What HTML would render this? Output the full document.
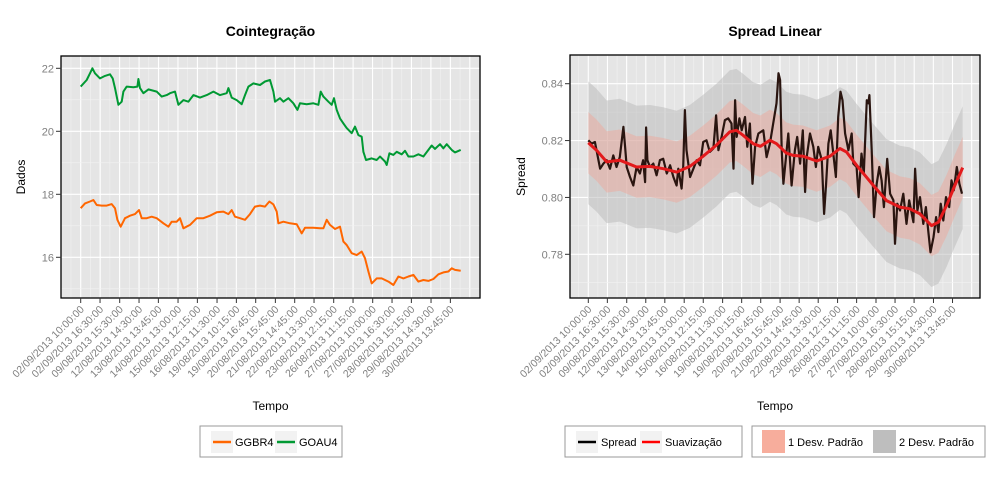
<!DOCTYPE html>
<html><head><meta charset="utf-8"><style>
html,body{margin:0;padding:0;background:#fff;}
svg{display:block;font-family:"Liberation Sans",sans-serif;}
</style></head><body>
<svg id="chart" width="1000" height="480" viewBox="0 0 1000 480" xmlns="http://www.w3.org/2000/svg"></svg>
<script>
// ---------- data ----------
const tickLabels = ["02/09/2013 10:00:00","02/09/2013 16:30:00","09/08/2013 15:30:00","12/08/2013 14:30:00","13/08/2013 13:45:00","14/08/2013 13:00:00","15/08/2013 12:15:00","16/08/2013 11:30:00","19/08/2013 10:15:00","19/08/2013 16:45:00","20/08/2013 15:45:00","21/08/2013 14:45:00","22/08/2013 13:30:00","23/08/2013 12:15:00","26/08/2013 11:15:00","27/08/2013 10:00:00","27/08/2013 16:30:00","28/08/2013 15:15:00","29/08/2013 14:30:00","30/08/2013 13:45:00"];
const tickIndex = [0,58,117,175,233,292,350,409,467,525,584,642,700,759,817,876,934,992,1051,1109];
const leftYTicks = [16,18,20,22];
const rightYTicks = [0.78,0.80,0.82,0.84];
const goau4 = [[0,21.42],[18,21.63],[28,21.84],[35,22.0],[43,21.84],[58,21.68],[73,21.76],[88,21.81],[96,21.68],[103,21.37],[113,20.84],[123,20.94],[128,21.26],[138,21.42],[158,21.40],[170,21.42],[173,21.66],[178,21.37],[188,21.21],[203,21.33],[228,21.26],[243,21.10],[258,21.15],[268,21.21],[283,21.26],[293,20.84],[308,20.99],[323,20.94],[338,21.15],[358,21.07],[378,21.15],[398,21.26],[418,21.15],[438,21.21],[443,21.37],[453,21.07],[468,20.99],[483,20.86],[493,21.15],[503,21.42],[518,21.52],[538,21.47],[553,21.58],[568,21.63],[578,21.26],[583,20.94],[598,21.05],[608,20.94],[623,21.05],[638,20.89],[650,20.68],[658,20.89],[678,20.86],[698,20.89],[713,20.84],[720,21.26],[728,21.10],[743,20.94],[753,20.84],[760,21.05],[768,20.68],[778,20.41],[788,20.25],[798,20.10],[813,19.94],[823,20.15],[833,19.88],[843,19.83],[848,19.35],[856,19.09],[873,19.14],[888,19.09],[898,19.20],[913,19.04],[918,18.93],[926,19.30],[938,19.25],[948,19.35],[963,19.27],[973,19.38],[983,19.20],[998,19.20],[1013,19.27],[1028,19.20],[1043,19.41],[1053,19.55],[1063,19.44],[1078,19.59],[1088,19.46],[1098,19.59],[1113,19.41],[1123,19.33],[1140,19.41]];
const ggbr4 = [[0,17.56],[13,17.71],[28,17.77],[38,17.82],[48,17.66],[63,17.64],[78,17.64],[93,17.69],[103,17.56],[110,17.19],[120,16.97],[133,17.24],[148,17.32],[163,17.37],[175,17.50],[183,17.24],[198,17.24],[213,17.29],[228,17.24],[248,17.08],[263,16.97],[273,17.13],[288,17.13],[298,17.24],[308,16.92],[328,17.03],[348,17.24],[368,17.24],[388,17.32],[408,17.43],[428,17.45],[443,17.37],[453,17.50],[463,17.29],[478,17.24],[493,17.19],[508,17.37],[523,17.61],[538,17.64],[553,17.61],[566,17.77],[578,17.68],[588,17.45],[593,17.08],[608,17.13],[628,17.08],[648,17.05],[663,16.76],[673,16.94],[698,16.94],[718,16.92],[728,16.92],[738,17.19],[748,17.03],[763,16.90],[778,16.97],[788,16.50],[798,16.39],[813,16.13],[828,16.07],[843,16.18],[853,15.97],[863,15.55],[873,15.17],[888,15.33],[903,15.33],[923,15.23],[938,15.12],[953,15.39],[968,15.33],[983,15.39],[998,15.44],[1013,15.23],[1028,15.28],[1043,15.25],[1058,15.31],[1073,15.46],[1088,15.52],[1103,15.55],[1113,15.65],[1123,15.60],[1140,15.57]];
const spread = [[0,0.8201],[10,0.8189],[20,0.8195],[27,0.8154],[36,0.8101],[46,0.8119],[56,0.8131],[66,0.8101],[76,0.8148],[86,0.8107],[96,0.8142],[107,0.8248],[112,0.8178],[117,0.8107],[127,0.8072],[137,0.8042],[147,0.8107],[157,0.8084],[167,0.8131],[173,0.8054],[176,0.8246],[180,0.8131],[188,0.8107],[198,0.8119],[208,0.8078],[218,0.8131],[228,0.8136],[239,0.8084],[249,0.8113],[259,0.8072],[269,0.8042],[274,0.8101],[284,0.8031],[289,0.8107],[294,0.8307],[299,0.8166],[310,0.8072],[320,0.8101],[330,0.8131],[340,0.8113],[350,0.8195],[360,0.8201],[370,0.8160],[381,0.8172],[389,0.8289],[396,0.8166],[406,0.8213],[416,0.8272],[426,0.8278],[436,0.8260],[442,0.8101],[447,0.8342],[452,0.8213],[460,0.8278],[467,0.8236],[477,0.8283],[484,0.8178],[492,0.8260],[500,0.8048],[508,0.8178],[518,0.8225],[533,0.8236],[543,0.8142],[553,0.8189],[563,0.8260],[573,0.8331],[579,0.8437],[584,0.8413],[589,0.8166],[594,0.8048],[602,0.8142],[609,0.8225],[619,0.8042],[629,0.8166],[636,0.8213],[645,0.8119],[653,0.8236],[660,0.8019],[665,0.8142],[675,0.8225],[685,0.8178],[693,0.8107],[700,0.8178],[711,0.8131],[718,0.7942],[724,0.8048],[731,0.8189],[738,0.8236],[746,0.8154],[754,0.8072],[761,0.8283],[768,0.8372],[774,0.8342],[782,0.8225],[792,0.8166],[802,0.8225],[807,0.8119],[817,0.8107],[823,0.8001],[832,0.8154],[839,0.8084],[848,0.8342],[853,0.8331],[856,0.8360],[863,0.8166],[870,0.7931],[878,0.8048],[886,0.8107],[893,0.8060],[900,0.7966],[910,0.8136],[919,0.8013],[929,0.7990],[934,0.7837],[941,0.7978],[949,0.7954],[959,0.8013],[969,0.7907],[977,0.7990],[990,0.7913],[995,0.8101],[1002,0.7954],[1010,0.8001],[1020,0.7907],[1028,0.7966],[1035,0.7884],[1042,0.7807],[1051,0.7860],[1059,0.7931],[1066,0.7878],[1073,0.7978],[1081,0.7919],[1089,0.8001],[1099,0.7966],[1106,0.8060],[1113,0.8025],[1122,0.8107],[1130,0.8048],[1138,0.8013]];
const smooth = [[0,0.8192],[25,0.8166],[56,0.8125],[96,0.8131],[147,0.8107],[188,0.8109],[228,0.8101],[269,0.8089],[309,0.8109],[350,0.8145],[390,0.8184],[431,0.8231],[451,0.8236],[471,0.8219],[502,0.8189],[524,0.8180],[553,0.8201],[573,0.8189],[603,0.8156],[624,0.8148],[654,0.8145],[695,0.8128],[736,0.8145],[766,0.8172],[786,0.8160],[817,0.8113],[868,0.8042],[908,0.7989],[949,0.7966],[979,0.7960],[1010,0.7942],[1045,0.7901],[1066,0.7913],[1091,0.7972],[1116,0.8042],[1140,0.8105]];
const spreadSd = [0.0108];

// ---------- helpers ----------
const NS="http://www.w3.org/2000/svg";
const svg=document.getElementById('chart');
function mk(tag,attrs,parent){const e=document.createElementNS(NS,tag);for(const k in attrs)e.setAttribute(k,attrs[k]);(parent||svg).appendChild(e);return e;}

function panel(cfg){
  const g=mk('g',{});
  
  
  const {x0,x1,y0,y1}=cfg;
  const xs=i=>cfg.px0+(i-0)*(cfg.px1-cfg.px0)/1140;
  const ys=v=>cfg.vy0+(v-cfg.v0)*(cfg.vy1-cfg.vy0)/(cfg.v1-cfg.v0);
  const bg=mk('rect',{x:x0,y:y0,width:x1-x0,height:y1-y0,fill:'#e5e5e5'},g);
  
  
  for(let k=-0.5;k<=tickIndex.length;k+=0.5){
    const xx=xs(k*(tickIndex[tickIndex.length-1]/(tickIndex.length-1)));
    if(xx<=x0||xx>=x1)continue;
    mk('line',{x1:xx,x2:xx,y1:y0,y2:y1,stroke:Number.isInteger(k)?'#ffffff':'#f2f2f2','stroke-width':Number.isInteger(k)?1.1:0.6},g);
  }
  const ystep=cfg.yticks[1]-cfg.yticks[0];
  for(let v=cfg.yticks[0]-ystep;v<=cfg.yticks[cfg.yticks.length-1]+ystep*1.01;v+=ystep/2){
    const yy=ys(v);if(yy<=y0||yy>=y1)continue;
    const major=cfg.yticks.some(t=>Math.abs(t-v)<1e-9);
    mk('line',{x1:x0,x2:x1,y1:yy,y2:yy,stroke:major?'#ffffff':'#f2f2f2','stroke-width':major?1.1:0.6},g);
  }
  cfg.draw(g,xs,ys);
  const border=mk('rect',{x:x0,y:y0,width:x1-x0,height:y1-y0,fill:'none',stroke:'#000','stroke-width':1.3},g);
  
  
  cfg.yticks.forEach(v=>{
    const yy=ys(v);
    mk('line',{x1:x0-5,x2:x0,y1:yy,y2:yy,stroke:'#333','stroke-width':1},g);
    const t=mk('text',{x:x0-7,y:yy+4,'text-anchor':'end','font-size':11,fill:'#7f7f7f'},g);
    t.textContent=cfg.yfmt(v);
    
    
  });
  tickIndex.forEach((ti,k)=>{
    const xx=xs(ti);
    mk('line',{x1:xx,x2:xx,y1:y1,y2:y1+5,stroke:'#333','stroke-width':1},g);
    const t=mk('text',{transform:`translate(${xx+4},${y1+12}) rotate(-45)`,'text-anchor':'end','font-size':10.5,fill:'#7f7f7f'},g);
    t.textContent=tickLabels[k];
    
    
  });
  const tt=mk('text',{x:(x0+x1)/2,y:36,'text-anchor':'middle','font-size':14,'font-weight':'bold',fill:'#000'},g);
  tt.textContent=cfg.title;
  
  
  const xt=mk('text',{x:(x0+x1)/2,y:410,'text-anchor':'middle','font-size':12,fill:'#000'},g);
  xt.textContent='Tempo';
  
  
  const yt=mk('text',{transform:`translate(${cfg.ytx},${(y0+y1)/2}) rotate(-90)`,'text-anchor':'middle','font-size':12,fill:'#000'},g);
  yt.textContent=cfg.ytitle;
  
  
}
function pathOf(arr,xs,ys){return arr.map((p,i)=>(i?'L':'M')+xs(p[0]).toFixed(1)+','+ys(p[1]).toFixed(1)).join('');}
function bandOf(arr,k,xs,ys){
  const up=arr.map(p=>[p[0],p[1]+k*spreadSd[0]]);
  const dn=arr.map(p=>[p[0],p[1]-k*spreadSd[0]]).reverse();
  return pathOf(up,xs,ys)+pathOf(dn,xs,ys).replace('M','L')+'Z';
}

panel({name:'cointegration-panel',x0:61,x1:480,y0:56,y1:298,px0:80.7,px1:460.7,
  v0:22,v1:16,vy0:68.3,vy1:257.3,yticks:leftYTicks,yfmt:v=>String(v),
  title:'Cointegração',ytitle:'Dados',ytx:25,
  draw:(g,xs,ys)=>{
    const a=mk('path',{d:pathOf(goau4,xs,ys),fill:'none',stroke:'#009933','stroke-width':2,'stroke-linejoin':'round'},g);
    
    
    const b=mk('path',{d:pathOf(ggbr4,xs,ys),fill:'none',stroke:'#ff6600','stroke-width':2,'stroke-linejoin':'round'},g);
    
    
  }});

panel({name:'spread-panel',x0:570,x1:980,y0:55,y1:298,px0:588.3,px1:962.7,
  v0:0.84,v1:0.78,vy0:83.7,vy1:254.3,yticks:rightYTicks,yfmt:v=>v.toFixed(2),
  title:'Spread Linear',ytitle:'Spread',ytx:525,
  draw:(g,xs,ys)=>{
    const b2=mk('path',{d:bandOf(smooth,2,xs,ys),fill:'#bdbdbd','fill-opacity':0.55},g);
    
    
    const b1=mk('path',{d:bandOf(smooth,1,xs,ys),fill:'#f4a090','fill-opacity':0.4},g);
    
    
    const s=mk('path',{d:pathOf(spread,xs,ys),fill:'none',stroke:'#2a1510','stroke-width':2.2,'stroke-linejoin':'round'},g);
    
    
    const r=mk('path',{d:pathOf(smooth,xs,ys),fill:'none',stroke:'#e31a1c','stroke-width':3,'stroke-linejoin':'round'},g);
    
    
  }});

// ---------- legends ----------
function legendBox(name,x,y,w,h){const r=mk('rect',{x:x,y:y,width:w,height:h,fill:'#fff',stroke:'#999','stroke-width':1});}
function legendEntry(name,kx,label,tx,kind,color){
  const g=mk('g',{});
  
  
  if(kind==='line'){mk('rect',{x:kx,y:431,width:22,height:22,fill:'#f2f2f2'},g);mk('line',{x1:kx+2,x2:kx+20,y1:442,y2:442,stroke:color,'stroke-width':2.5},g);}
  else mk('rect',{x:kx,y:430,width:23,height:23,fill:color},g);
  const t=mk('text',{x:tx,y:446,'font-size':11,fill:'#000'},g);t.textContent=label;
}
legendBox('cointegration-legend',200,426,142,31);
legendEntry('legend-ggbr4',211,'GGBR4',235,'line','#ff6600');
legendEntry('legend-goau4',275,'GOAU4',299,'line','#009933');
legendBox('spread-legend',565,426,177,31);
legendEntry('legend-spread',576,'Spread',601,'line','#000');
legendEntry('legend-suavizacao',640,'Suavização',665,'line','#ff0000');
legendBox('band-legend',752,426,233,31);
legendEntry('legend-one-sd',762,'1 Desv. Padrão',788,'fill','#f7ad9c');
legendEntry('legend-two-sd',873,'2 Desv. Padrão',899,'fill','#bebebe');
</script>
</body></html>
